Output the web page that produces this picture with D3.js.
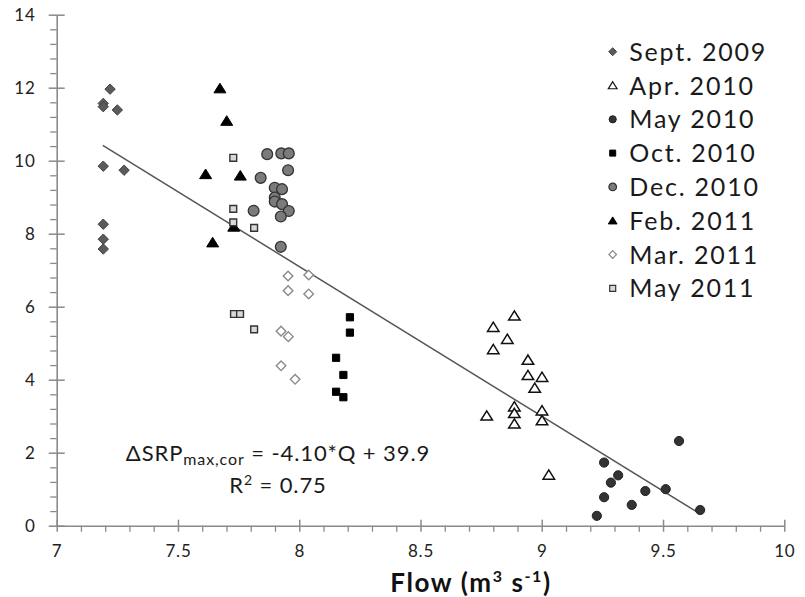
<!DOCTYPE html>
<html>
<head>
<meta charset="utf-8">
<script src="https://cdn.jsdelivr.net/npm/d3@7"></script>
<style>
  html, body { margin: 0; padding: 0; background: #fff; }
  svg { display: block; font-family: Lato, "Open Sans", sans-serif; }
</style>
</head>
<body>
<svg id="chart" width="805" height="597"></svg>
<script>
// Flow (m3 s-1) and ΔSRP values for each sampling campaign
const sept2009Flow = [7.220, 7.192, 7.192, 7.250, 7.192, 7.278, 7.192, 7.192, 7.192];
const sept2009Srp  = [11.96, 11.57, 11.48, 11.39, 9.85, 9.74, 8.26, 7.85, 7.58];

const apr2010Flow = [8.887, 8.800, 8.858, 8.800, 8.943, 8.943, 9.001, 8.971, 8.773, 8.887, 8.887, 8.887, 9.001, 9.001, 9.029];
const apr2010Srp  = [5.75, 5.44, 5.11, 4.83, 4.54, 4.12, 4.07, 3.77, 3.01, 3.26, 3.08, 2.79, 3.15, 2.88, 1.39];

const may2010Flow = [9.257, 9.315, 9.285, 9.257, 9.227, 9.371, 9.427, 9.511, 9.566, 9.653];
const may2010Srp  = [1.73, 1.38, 1.18, 0.78, 0.27, 0.57, 0.95, 1.00, 2.32, 0.43];

const oct2010Flow = [8.209, 8.209, 8.152, 8.182, 8.152, 8.182];
const oct2010Srp  = [5.71, 5.29, 4.60, 4.13, 3.67, 3.52];

const dec2010Flow = [7.868, 7.926, 7.957, 7.954, 7.841, 7.899, 7.929, 7.899, 7.899, 7.929, 7.957, 7.924, 7.812, 7.924];
const dec2010Srp  = [10.18, 10.20, 10.20, 9.74, 9.53, 9.26, 9.22, 8.99, 8.88, 8.81, 8.62, 8.47, 8.63, 7.64];

const feb2011Flow = [7.673, 7.701, 7.614, 7.757, 7.730, 7.643];
const feb2011Srp  = [11.98, 11.09, 9.63, 9.59, 8.19, 7.76];

const mar2011Flow = [7.954, 8.039, 7.954, 8.039, 7.925, 7.955, 7.925, 7.983];
const mar2011Srp  = [6.84, 6.87, 6.44, 6.35, 5.33, 5.18, 4.38, 4.01];

const may2011Flow = [7.728, 7.728, 7.728, 7.814, 7.731, 7.756, 7.814];
const may2011Srp  = [10.08, 8.68, 8.31, 8.16, 5.80, 5.80, 5.38];

const seriesNames = ["Sept. 2009", "Apr. 2010", "May 2010", "Oct. 2010", "Dec. 2010", "Feb. 2011", "Mar. 2011", "May 2011"];

// Linear fit ΔSRP = slope*Q + intercept, drawn over the observed flow range
const fitSlope = -4.10;
const fitIntercept = 39.9;
const fitR2 = 0.75;
const fitFlowRange = [7.19, 9.65];

const xTicks = [7, 7.5, 8, 8.5, 9, 9.5, 10];
const yTicks = [0, 2, 4, 6, 8, 10, 12, 14];

// ---- marker shapes (half-size r) ----
const shapes = {
  diamond: r => `M0,${-r}L${r},0L0,${r}L${-r},0Z`,
  triangle: r => `M0,${-r}L${r * 1.15},${r * 0.85}L${-r * 1.15},${r * 0.85}Z`,
  square: r => `M${-r},${-r}H${r}V${r}H${-r}Z`,
  circle: r => `M${r},0A${r},${r} 0 1,1 ${-r},0A${r},${r} 0 1,1 ${r},0Z`
};

const series = [
  { name: seriesNames[0], flow: sept2009Flow, srp: sept2009Srp, shape: "diamond",  r: 5.2, lr: 4,   fill: "#5b5b5b", stroke: "#444",    sw: 1 },
  { name: seriesNames[1], flow: apr2010Flow,  srp: apr2010Srp,  shape: "triangle", r: 5,   lr: 3.8, fill: "#fff",    stroke: "#111",    sw: 1.5 },
  { name: seriesNames[2], flow: may2010Flow,  srp: may2010Srp,  shape: "circle",   r: 4.6, lr: 3.6, fill: "#333",    stroke: "#222",    sw: 1 },
  { name: seriesNames[3], flow: oct2010Flow,  srp: oct2010Srp,  shape: "square",   r: 3.6, lr: 3,   fill: "#000",    stroke: "#000",    sw: 1 },
  { name: seriesNames[4], flow: dec2010Flow,  srp: dec2010Srp,  shape: "circle",   r: 5.4, lr: 3.8, fill: "#7b7b7b", stroke: "#333",    sw: 1.3 },
  { name: seriesNames[5], flow: feb2011Flow,  srp: feb2011Srp,  shape: "triangle", r: 5.2, lr: 3.8, fill: "#000",    stroke: "#000",    sw: 1 },
  { name: seriesNames[6], flow: mar2011Flow,  srp: mar2011Srp,  shape: "diamond",  r: 4.8, lr: 3.8, fill: "#fff",    stroke: "#8a8a8a", sw: 1.4 },
  { name: seriesNames[7], flow: may2011Flow,  srp: may2011Srp,  shape: "square",   r: 3.4, lr: 3,   fill: "#d9d9d9", stroke: "#333",    sw: 1.4 }
];

const svg = d3.select("#chart");
const plot = { left: 56.7, right: 784.3, top: 14.7, bottom: 525.7 };

const x = d3.scaleLinear().domain([7, 10]).range([plot.left, plot.right]);
const y = d3.scaleLinear().domain([0, 14]).range([plot.bottom, plot.top]);

const axisColor = "#8a8a8a";
const labelColor = "#222";

function styleTickText(sel) {
  sel.selectAll("text")
    .attr("fill", labelColor)
    .style("font-size", "17px")
    .style("letter-spacing", "0.8px")
    .style("font-family", "Lato, sans-serif");
}

// ---- x axis: minor ticks every 0.1, major every 0.5 ----
const xMinor = d3.range(70, 101).map(v => v / 10).filter(v => !xTicks.includes(v));
svg.append("g")
  .attr("transform", `translate(0,${plot.bottom})`)
  .call(d3.axisBottom(x).tickValues(xMinor).tickSize(6).tickFormat(""))
  .call(g => g.select(".domain").remove())
  .call(g => g.selectAll("line").attr("stroke", axisColor).attr("stroke-width", 1.3));

const xAxis = svg.append("g")
  .attr("transform", `translate(0,${plot.bottom})`)
  .call(d3.axisBottom(x).tickValues(xTicks).tickSize(6).tickSizeOuter(0).tickPadding(13).tickFormat(d3.format("")));
xAxis.select(".domain").attr("stroke", axisColor).attr("stroke-width", 1.6);
xAxis.selectAll("line").attr("stroke", axisColor).attr("stroke-width", 1.5).attr("y1", -6).attr("y2", 6);
styleTickText(xAxis);

// ---- y axis: minor ticks every 0.4, major every 2 ----
const yMinor = d3.range(0, 36).map(v => +(v * 0.4).toFixed(1)).filter(v => v % 2 !== 0 && v <= 14);
svg.append("g")
  .attr("transform", `translate(${plot.left},0)`)
  .call(d3.axisLeft(y).tickValues(yMinor).tickSize(6.5).tickFormat(""))
  .call(g => g.select(".domain").remove())
  .call(g => g.selectAll("line").attr("stroke", axisColor).attr("stroke-width", 1.3));

const yAxis = svg.append("g")
  .attr("transform", `translate(${plot.left},0)`)
  .call(d3.axisLeft(y).tickValues(yTicks).tickSize(8).tickSizeOuter(0).tickPadding(13).tickFormat(d3.format("")));
yAxis.select(".domain").attr("stroke", axisColor).attr("stroke-width", 1.6);
yAxis.selectAll("line").attr("stroke", axisColor).attr("stroke-width", 1.5).attr("x1", 8).attr("x2", -8);
styleTickText(yAxis);

// ---- regression line ----
const line = d3.line().x(d => x(d)).y(d => y(fitSlope * d + fitIntercept));
svg.append("path")
  .attr("d", line(fitFlowRange))
  .attr("fill", "none")
  .attr("stroke", "#555")
  .attr("stroke-width", 1.5);

// ---- markers ----
series.forEach(s => {
  svg.append("g").selectAll("path")
    .data(d3.zip(s.flow, s.srp))
    .join("path")
      .attr("transform", d => `translate(${x(d[0])},${y(d[1])})`)
      .attr("d", shapes[s.shape](s.r))
      .attr("fill", s.fill)
      .attr("stroke", s.stroke)
      .attr("stroke-width", s.sw);
});

// ---- legend ----
const legend = svg.append("g").attr("transform", "translate(612.7,51.7)");
const rowH = 33.8;
series.forEach((s, i) => {
  const row = legend.append("g").attr("transform", `translate(0,${i * rowH})`);
  row.append("path")
    .attr("d", shapes[s.shape](s.lr))
    .attr("fill", s.fill)
    .attr("stroke", s.stroke)
    .attr("stroke-width", Math.min(s.sw, 1.2));
  row.append("text")
    .attr("x", 16.6)
    .attr("dy", "0.36em")
    .attr("fill", "#1a1a1a")
    .style("font-size", "25px")
    .style("letter-spacing", "1.8px")
    .text(s.name);
});

// ---- fit equation ----
const eq = svg.append("text")
  .attr("x", 278).attr("y", 460.7)
  .attr("text-anchor", "middle")
  .attr("fill", "#1a1a1a")
  .style("font-size", "22px")
  .style("letter-spacing", "0.9px");
eq.append("tspan").text("ΔSRP");
eq.append("tspan").attr("dy", 4).style("font-size", "16px").text("max,cor");
eq.append("tspan").attr("dy", -4).text(` = ${fitSlope.toFixed(2)}*Q + ${fitIntercept}`);

const r2 = svg.append("text")
  .attr("x", 278).attr("y", 492.7)
  .attr("text-anchor", "middle")
  .attr("fill", "#1a1a1a")
  .style("font-size", "22px")
  .style("letter-spacing", "0.9px");
r2.append("tspan").text("R");
r2.append("tspan").attr("dy", -8).style("font-size", "14px").text("2");
r2.append("tspan").attr("dy", 8).text(` = ${fitR2}`);

// ---- x axis title ----
const xt = svg.append("text")
  .attr("x", 471).attr("y", 591.7)
  .attr("text-anchor", "middle")
  .attr("fill", "#111")
  .style("font-size", "26px")
  .style("font-weight", "bold")
  .style("letter-spacing", "1.6px");
xt.append("tspan").text("Flow (m");
xt.append("tspan").attr("dy", -10).style("font-size", "16px").text("3");
xt.append("tspan").attr("dy", 10).text(" s");
xt.append("tspan").attr("dy", -10).style("font-size", "16px").text("-1");
xt.append("tspan").attr("dy", 10).text(")");
</script>
</body>
</html>
